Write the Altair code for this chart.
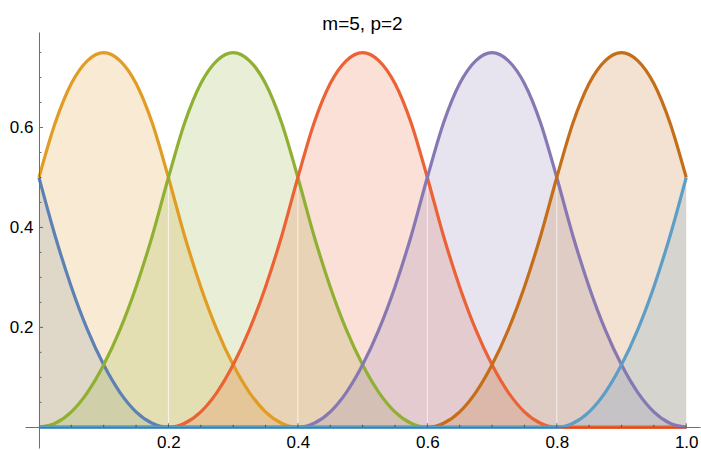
import altair as alt
import pandas as pd

# shared x grid (values read every 0.025)
x_vals = [0.0, 0.025, 0.05, 0.075, 0.1, 0.125, 0.15, 0.175, 0.2, 0.225,
          0.25, 0.275, 0.3, 0.325, 0.35, 0.375, 0.4, 0.425, 0.45, 0.475,
          0.5, 0.525, 0.55, 0.575, 0.6, 0.625, 0.65, 0.675, 0.7, 0.725,
          0.75, 0.775, 0.8, 0.825, 0.85, 0.875, 0.9, 0.925, 0.95, 0.975, 1.0]

n0 = [0.5, 0.383, 0.281, 0.195, 0.125, 0.07, 0.031, 0.008, 0,
      0, 0, 0, 0, 0, 0, 0, 0, 0, 0, 0, 0, 0, 0, 0, 0, 0, 0, 0, 0, 0, 0, 0, 0, 0, 0, 0, 0, 0, 0, 0, 0]
n1 = [0.5, 0.609, 0.688, 0.734, 0.75, 0.734, 0.688, 0.609, 0.5,
      0.383, 0.281, 0.195, 0.125, 0.07, 0.031, 0.008, 0,
      0, 0, 0, 0, 0, 0, 0, 0, 0, 0, 0, 0, 0, 0, 0, 0, 0, 0, 0, 0, 0, 0, 0, 0]
n2 = [0, 0.008, 0.031, 0.07, 0.125, 0.195, 0.281, 0.383, 0.5,
      0.609, 0.688, 0.734, 0.75, 0.734, 0.688, 0.609, 0.5,
      0.383, 0.281, 0.195, 0.125, 0.07, 0.031, 0.008, 0,
      0, 0, 0, 0, 0, 0, 0, 0, 0, 0, 0, 0, 0, 0, 0, 0]
n3 = [0, 0, 0, 0, 0, 0, 0, 0,
      0, 0.008, 0.031, 0.07, 0.125, 0.195, 0.281, 0.383, 0.5,
      0.609, 0.688, 0.734, 0.75, 0.734, 0.688, 0.609, 0.5,
      0.383, 0.281, 0.195, 0.125, 0.07, 0.031, 0.008, 0,
      0, 0, 0, 0, 0, 0, 0, 0]
n4 = [0, 0, 0, 0, 0, 0, 0, 0, 0, 0, 0, 0, 0, 0, 0, 0,
      0, 0.008, 0.031, 0.07, 0.125, 0.195, 0.281, 0.383, 0.5,
      0.609, 0.688, 0.734, 0.75, 0.734, 0.688, 0.609, 0.5,
      0.383, 0.281, 0.195, 0.125, 0.07, 0.031, 0.008, 0]
n5 = [0, 0, 0, 0, 0, 0, 0, 0, 0, 0, 0, 0, 0, 0, 0, 0, 0, 0, 0, 0, 0, 0, 0, 0,
      0, 0.008, 0.031, 0.07, 0.125, 0.195, 0.281, 0.383, 0.5,
      0.609, 0.688, 0.734, 0.75, 0.734, 0.688, 0.609, 0.5]
n6 = [0, 0, 0, 0, 0, 0, 0, 0, 0, 0, 0, 0, 0, 0, 0, 0, 0, 0, 0, 0, 0, 0, 0, 0,
      0, 0, 0, 0, 0, 0, 0, 0,
      0, 0.008, 0.031, 0.07, 0.125, 0.195, 0.281, 0.383, 0.5]

series_names = ["N0", "N1", "N2", "N3", "N4", "N5", "N6"]
series_vals = [n0, n1, n2, n3, n4, n5, n6]
colors = ["#5E81B5", "#E19C24", "#8FB032", "#EB6235", "#8778B3", "#C56E1A", "#5D9EC7"]

# knots where the fill polygons meet (faint white seams)
knots = [0.2, 0.4, 0.6, 0.8]
knot_heights = [0.5, 0.5, 0.5, 0.5]

x_major = [0.2, 0.4, 0.6, 0.8, 1.0]
x_minor = [0.05, 0.1, 0.15, 0.25, 0.3, 0.35, 0.45, 0.5, 0.55, 0.65, 0.7, 0.75, 0.85, 0.9, 0.95]
y_major = [0.2, 0.4, 0.6]
y_minor = [0.05, 0.1, 0.15, 0.25, 0.3, 0.35, 0.45, 0.5, 0.55, 0.65, 0.7, 0.75]

rows = []
for name, ys in zip(series_names, series_vals):
    for xv, yv in zip(x_vals, ys):
        rows.append({"x": xv, "v": yv, "s": name})
df = pd.DataFrame(rows)

xdom = [-0.0216, 1.0213]
ydom = [-0.0414, 0.7911]

xs = alt.Scale(domain=xdom, nice=False, zero=False)
ys_ = alt.Scale(domain=ydom, nice=False, zero=False)
cs = alt.Scale(domain=series_names, range=colors)

FONT = "Liberation Sans"

x_axis = alt.Axis(values=x_major, format=".1f", title=None, ticks=False, tickSize=0,
                  grid=False, offset=-21, labelPadding=7, labelFontSize=17, labelFont=FONT,
                  labelColor="black", domainColor="#6e6e6e", domainWidth=1, zindex=1,
                  labelFlush=False)
y_axis = alt.Axis(values=y_major, format=".1f", title=None, ticks=False, tickSize=0,
                  grid=False, offset=-14, labelPadding=6, labelFontSize=17, labelFont=FONT,
                  labelColor="black", domainColor="#6e6e6e", domainWidth=1, zindex=1,
                  labelFlush=False)

base = alt.Chart(df)

areas = base.mark_area(interpolate="monotone", fillOpacity=0.2).encode(
    x=alt.X("x:Q", scale=xs, axis=x_axis),
    y=alt.Y("v:Q", scale=ys_, axis=y_axis, stack=None),
    y2=alt.datum(0),
    color=alt.Color("s:N", scale=cs, legend=None),
    detail="s:N",
)

seams = alt.Chart(pd.DataFrame({"k": knots, "h": knot_heights})).mark_rule(
    color="white", strokeWidth=1, opacity=0.7
).encode(
    x=alt.X("k:Q", scale=xs),
    y=alt.Y("h:Q", scale=ys_),
    y2=alt.datum(0),
)

lines = base.mark_line(interpolate="monotone", strokeWidth=3.2).encode(
    x=alt.X("x:Q", scale=xs),
    y=alt.Y("v:Q", scale=ys_),
    color=alt.Color("s:N", scale=cs, legend=None),
    detail="s:N",
)

tick_color = "#333333"
xt_major = alt.Chart(pd.DataFrame({"t": x_major})).mark_tick(
    orient="vertical", size=4, thickness=1, yOffset=-2, color=tick_color
).encode(x=alt.X("t:Q", scale=xs), y=alt.datum(0))
xt_minor = alt.Chart(pd.DataFrame({"t": x_minor})).mark_tick(
    orient="vertical", size=2.5, thickness=1, yOffset=-1.25, color=tick_color
).encode(x=alt.X("t:Q", scale=xs), y=alt.datum(0))
yt_major = alt.Chart(pd.DataFrame({"t": y_major})).mark_tick(
    orient="horizontal", size=4, thickness=1, xOffset=2, color=tick_color
).encode(y=alt.Y("t:Q", scale=ys_), x=alt.datum(0))
yt_minor = alt.Chart(pd.DataFrame({"t": y_minor})).mark_tick(
    orient="horizontal", size=2.5, thickness=1, xOffset=1.25, color=tick_color
).encode(y=alt.Y("t:Q", scale=ys_), x=alt.datum(0))

chart = alt.layer(areas, seams, lines, xt_major, xt_minor, yt_major, yt_minor).properties(
    width=675,
    height=416,
    autosize="none",
    padding={"left": 25, "top": 32, "right": 1, "bottom": 2},
    background="white",
    title=alt.TitleParams("m=5, p=2", fontSize=19, font=FONT, fontWeight="normal",
                          color="black", anchor="middle", frame="group",
                          baseline="alphabetic", offset=5, dy=22),
).configure_view(stroke=None)

chart.save("out.html", embed_options={"renderer": "svg", "actions": False})
